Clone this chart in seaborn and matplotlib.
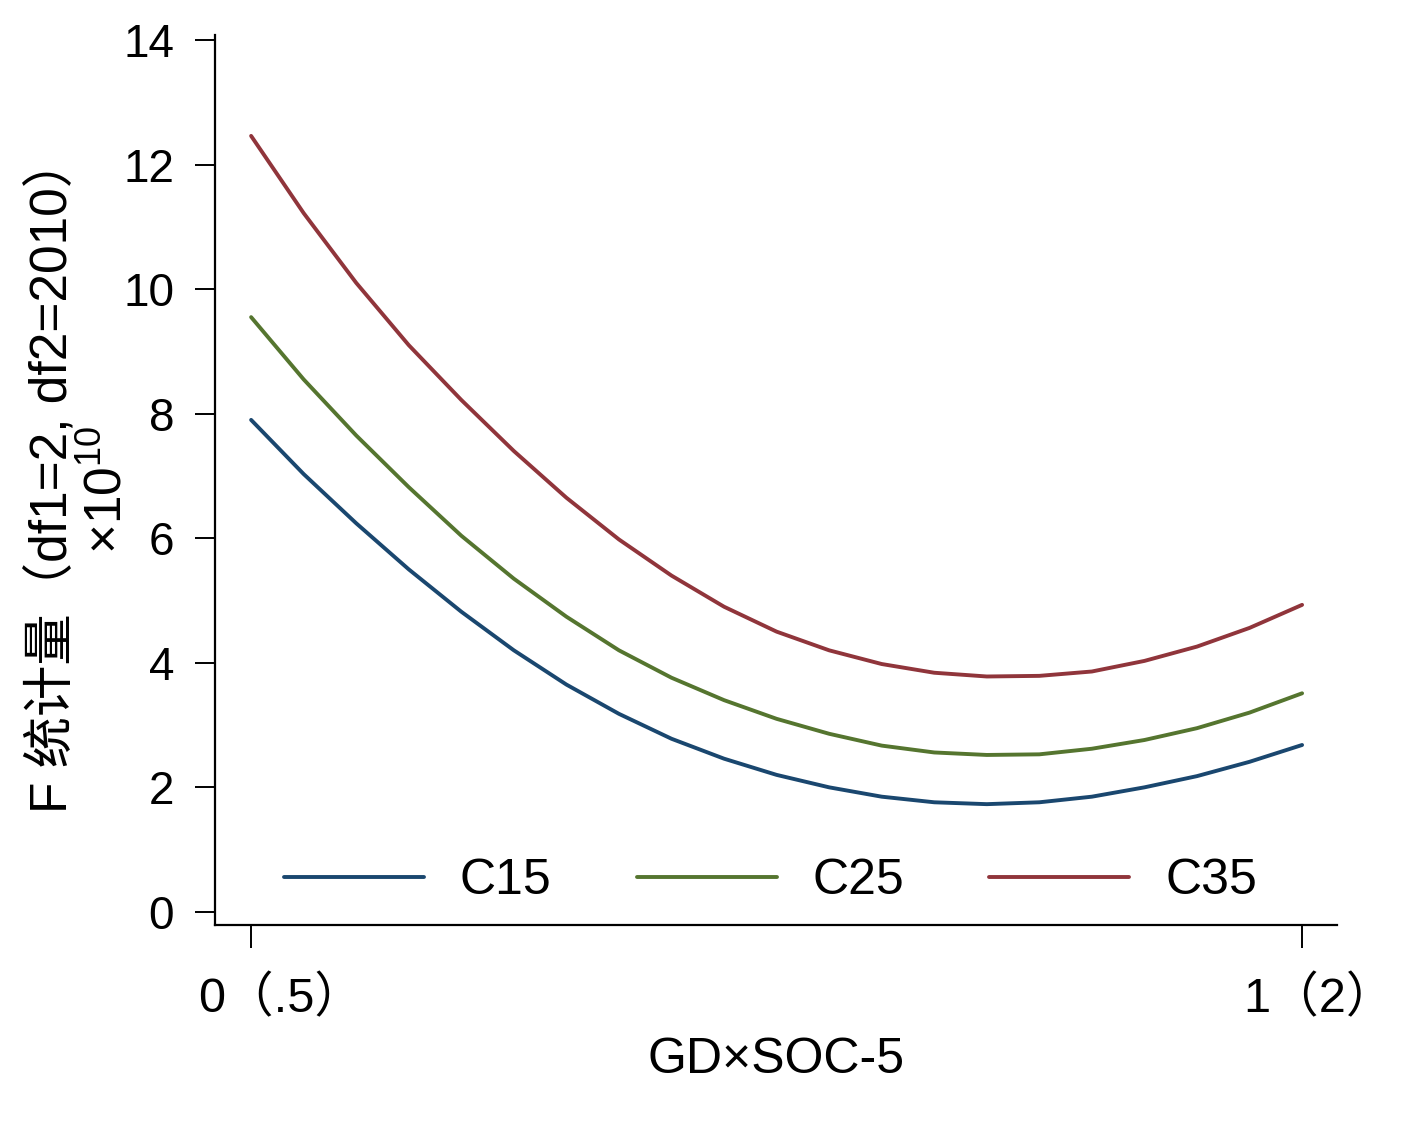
import pandas as pd
import seaborn as sns
import matplotlib.pyplot as plt
from matplotlib.transforms import ScaledTranslation

# values (x = GD×SOC-5 position, y = F ×10^10)
x = [0.00, 0.05, 0.10, 0.15, 0.20, 0.25, 0.30, 0.35, 0.40, 0.45, 0.50,
     0.55, 0.60, 0.65, 0.70, 0.75, 0.80, 0.85, 0.90, 0.95, 1.00]
c15 = [7.90, 7.03, 6.24, 5.50, 4.82, 4.20, 3.65, 3.18, 2.78, 2.46, 2.20,
       2.00, 1.85, 1.76, 1.73, 1.76, 1.85, 2.00, 2.18, 2.41, 2.68]
c25 = [9.55, 8.55, 7.65, 6.82, 6.04, 5.35, 4.74, 4.20, 3.76, 3.40, 3.10,
       2.86, 2.67, 2.56, 2.52, 2.53, 2.62, 2.76, 2.95, 3.20, 3.51]
c35 = [12.46, 11.22, 10.10, 9.10, 8.22, 7.40, 6.65, 5.98, 5.40, 4.90, 4.50,
       4.20, 3.98, 3.84, 3.78, 3.79, 3.86, 4.03, 4.26, 4.56, 4.93]
series = ["C15", "C25", "C35"]
colors = ["#1a476f", "#55752f", "#90353b"]
yticks = [0, 2, 4, 6, 8, 10, 12, 14]
xticks = [0, 1]
xticklabels = ["0（.5）", "1（2）"]

sns.set_theme(style="white")
plt.rcParams['font.family'] = ['Liberation Sans', 'Noto Sans CJK SC']
plt.rcParams['mathtext.fontset'] = 'custom'
plt.rcParams['mathtext.rm'] = 'Liberation Sans'
plt.rcParams['axes.unicode_minus'] = False
plt.rcParams['text.color'] = 'black'

df = pd.DataFrame({
    "x": x * 3,
    "F": c15 + c25 + c35,
    "组": [s for s in series for _ in x],
})

fig = plt.figure(figsize=(14.02, 11.22), dpi=100)
ax = fig.add_axes([0.1534, 0.1756, 0.8003, 0.7932])

sns.lineplot(data=df, x="x", y="F", hue="组", palette=colors,
             linewidth=2.8, solid_joinstyle="round", solid_capstyle="round",
             ax=ax)

ax.set_xlim(-0.0343, 1.0333)
ax.set_ylim(-0.21, 14.08)
ax.set_yticks(yticks)
ax.set_xticks(xticks, labels=xticklabels)

for s in ["top", "right"]:
    ax.spines[s].set_visible(False)
for s in ["left", "bottom"]:
    ax.spines[s].set_linewidth(1.6)
    ax.spines[s].set_color("black")

ax.tick_params(axis="y", direction="out", length=14.4, width=1.4,
               labelsize=33, pad=15, left=True, colors="black")
ax.tick_params(axis="x", direction="out", length=16.5, width=1.4,
               labelsize=35, pad=20, bottom=True, colors="black")

# stata places these a little right of the tick
for lab, dx in zip(ax.get_xticklabels(), [30, 17]):
    lab.set_transform(lab.get_transform() +
                      ScaledTranslation(dx / 100, 0, fig.dpi_scale_trans))

# y title in two lines: main text + the scale factor
ax.set_ylabel("F 统计量（df1=2, df2=2010）", fontsize=37, color="black")
ax.yaxis.set_label_coords(-0.122, 0.506)
ax.text(-0.096, 0.489, "×10$^{10}$", transform=ax.transAxes, rotation=90,
        ha="center", va="center", fontsize=37, color="black")
ax.set_xlabel("GD×SOC-5", fontsize=36, labelpad=11, color="black")

sns.move_legend(ax, "center", bbox_to_anchor=(0.495, 0.0494), ncol=3,
                frameon=False, title=None, fontsize=36, handlelength=2.8,
                handletextpad=0.72, columnspacing=1.7, borderpad=0)
for t in ax.get_legend().get_texts():
    t.set_color("black")

fig.savefig("out.png", dpi=100, facecolor="white")
